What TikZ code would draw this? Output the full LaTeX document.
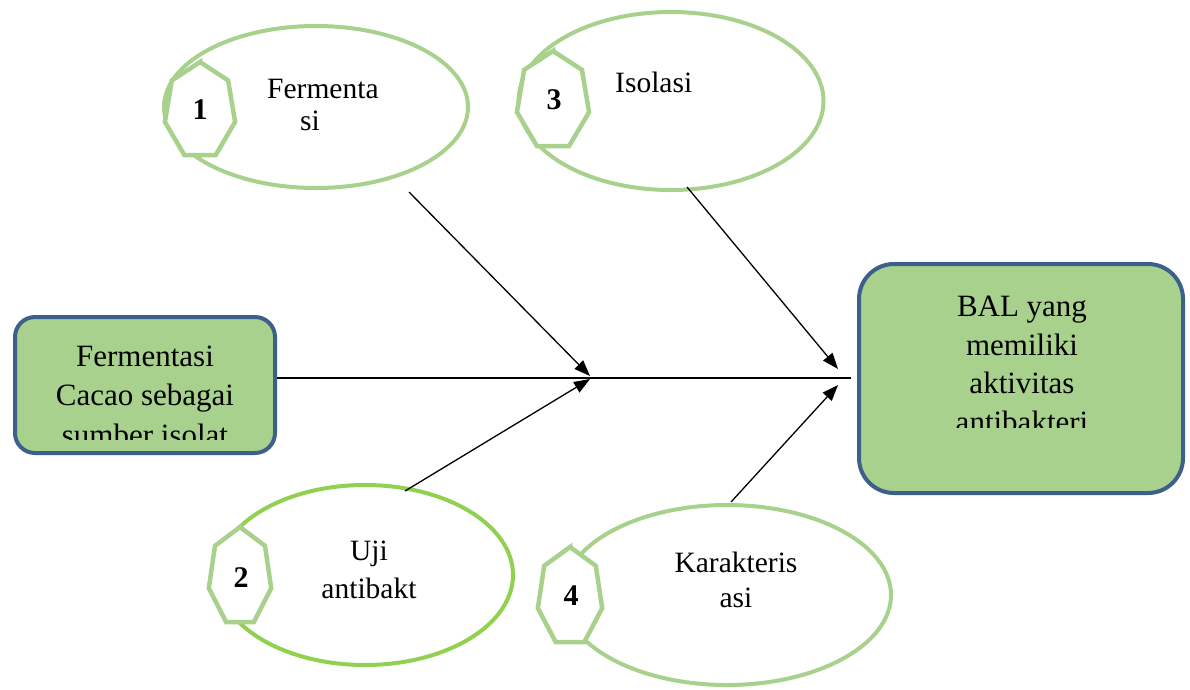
\documentclass[tikz,border=0pt]{standalone}
\usepackage{fontspec}
\setmainfont{Liberation Serif}
\usetikzlibrary{shapes.geometric,arrows.meta}
\definecolor{lgreen}{HTML}{A9D18E}
\definecolor{bgreen}{HTML}{92D050}
\definecolor{navy}{HTML}{3C5F8C}
\newcommand\heptagonat[4]{%
  \draw[hept] plot[samples=8, domain=90:450] ({#1+#3*cos(\x)},{#2-#4*sin(\x)}) -- cycle;}
\begin{document}
\begin{tikzpicture}[x=1pt,y=-1pt,
  ell/.style={ellipse, draw=lgreen, line width=4pt, inner sep=0pt, fill=white},
  box/.style={draw=navy, fill=lgreen, line width=4pt, inner sep=0pt},
  num/.style={font=\fontsize{30}{30}\selectfont\bfseries, inner sep=0pt},
  etext/.style={inner sep=0pt},
  btext/.style={font=\fontsize{31}{39.5}\selectfont, inner sep=0pt, align=center},
  hept/.style={draw=lgreen, fill=white, line width=4.5pt, line join=miter},
  arr/.style={-{Triangle[length=16pt,width=12pt]}, line width=1.3pt},
]
\useasboundingbox (0,0) rectangle (1190,689);

% boxes
\node[box, rounded corners=20pt, minimum width=260pt, minimum height=136pt] (b1) at (145,385) {};
\node[box, rounded corners=35pt, minimum width=324pt, minimum height=229pt] (b2) at (1021,378.5) {};
\begin{scope}
  \clip (20,320) rectangle (270,439);
  \node[btext, anchor=base] (t1) at (145,445) {Fermentasi\\Cacao sebagai\\sumber isolat};
\end{scope}
\begin{scope}
  \clip (865,270) rectangle (1180,427);
  \node[btext, anchor=base, font=\fontsize{31}{38.5}\selectfont] (t2) at (1022,432) {BAL yang\\memiliki\\aktivitas\\antibakteri};
\end{scope}

% ellipses
\node[ell, minimum width=304pt, minimum height=162pt] (e1) at (316,107) {};
\node[ell, minimum width=305pt, minimum height=178pt] (e3) at (671,101) {};
\node[ell, draw=bgreen, minimum width=296pt, minimum height=180pt] (e2) at (365,575) {};
\node[ell, minimum width=328pt, minimum height=180pt] (e4) at (727,595) {};

% ellipse texts
\node[etext, anchor=base west, align=left, font=\fontsize{29.5}{32}\selectfont] (l1) at (267,130) {Fermenta\\\hspace*{33pt}si};
\node[etext, anchor=base west, font=\fontsize{29.5}{32}\selectfont] (l3) at (615,92) {Isolasi};
\node[etext, anchor=base, align=center, font=\fontsize{29.5}{38}\selectfont] (l2) at (369,598) {Uji\\antibakt};
\node[etext, anchor=base, align=center, font=\fontsize{29.5}{35}\selectfont] (l4) at (736,607) {Karakteris\\asi};

% heptagons with numbers
\heptagonat{200}{111}{36}{49}
\heptagonat{553}{101}{37}{50}
\heptagonat{240}{577}{32}{50}
\heptagonat{570}{597}{33}{50}
\node[num] (n1) at (200,110) {1};
\node[num] (n3) at (554,100) {3};
\node[num] (n2) at (241,577.5) {2};
\node[num] (n4) at (571,596) {4};

% spine
\coordinate (spineend) at (851,378);
\draw[line width=2.5pt] (b1.east |- spineend) -- (spineend);

% arrows
\coordinate (s1) at (409,192); \coordinate (a1) at (590,376);
\coordinate (s2) at (405,491); \coordinate (a2) at (590,379);
\coordinate (s3) at (687,187); \coordinate (a3) at (838,369);
\coordinate (s4) at (731,502); \coordinate (a4) at (838,385);
\draw[arr] (s1) -- (a1);
\draw[arr] (s2) -- (a2);
\draw[arr] (s3) -- (a3);
\draw[arr] (s4) -- (a4);
\end{tikzpicture}
\end{document}
